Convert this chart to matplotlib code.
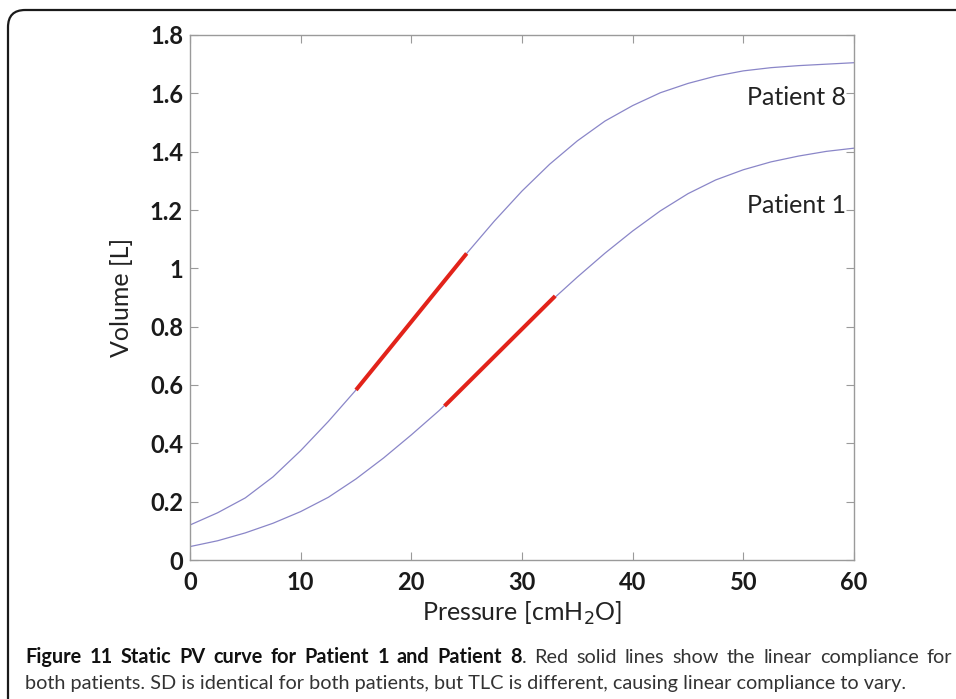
import matplotlib
matplotlib.use('Agg')
import matplotlib.pyplot as plt
from matplotlib.patches import FancyBboxPatch

# Static PV curves (pressure in cmH2O, volume in L)
pressure = [0, 2.5, 5, 7.5, 10, 12.5, 15, 17.5, 20, 22.5, 25, 27.5, 30,
            32.5, 35, 37.5, 40, 42.5, 45, 47.5, 50, 52.5, 55, 57.5, 60]
vol_p8 = [0.12, 0.162, 0.213, 0.285, 0.375, 0.475, 0.583, 0.70, 0.817, 0.935,
          1.051, 1.162, 1.265, 1.357, 1.437, 1.505, 1.558, 1.602, 1.634, 1.659,
          1.677, 1.688, 1.695, 1.70, 1.705]
vol_p1 = [0.046, 0.066, 0.093, 0.126, 0.166, 0.215, 0.278, 0.35, 0.429, 0.512,
          0.603, 0.70, 0.792, 0.884, 0.970, 1.052, 1.128, 1.197, 1.256, 1.303,
          1.338, 1.365, 1.385, 1.401, 1.412]

# linear compliance segments
lin_p8_x = [15, 25]
lin_p8_y = [0.583, 1.051]
lin_p1_x = [23, 33]
lin_p1_y = [0.528, 0.905]

x_ticks = [0, 10, 20, 30, 40, 50, 60]
y_ticks = [0, 0.2, 0.4, 0.6, 0.8, 1.0, 1.2, 1.4, 1.6, 1.8]
y_ticklabels = ['0', '0.2', '0.4', '0.6', '0.8', '1', '1.2', '1.4', '1.6', '1.8']

FONT = 'Lato'
W, H = 956, 699
fig = plt.figure(figsize=(W / 100, H / 100), dpi=100)
fig.patch.set_facecolor('white')

# outer frame with rounded corner
frame = FancyBboxPatch((8 / W, -40 / H), (W + 40) / W, (H + 40 - 10) / H,
                       boxstyle='round,pad=0,rounding_size=0.018',
                       transform=fig.transFigure, fill=False,
                       ec='#1a1a1a', lw=1.6, mutation_aspect=W / H)
fig.patches.append(frame)

ax = fig.add_axes([190 / W, (H - 560) / H, 664 / W, 525 / H])
ax.plot(pressure, vol_p8, color='#8a86c8', lw=0.9, zorder=2)
ax.plot(pressure, vol_p1, color='#8a86c8', lw=0.9, zorder=2)
ax.plot(lin_p8_x, lin_p8_y, color='#e2231a', lw=2.9, solid_capstyle='butt', zorder=3)
ax.plot(lin_p1_x, lin_p1_y, color='#e2231a', lw=2.9, solid_capstyle='butt', zorder=3)

ax.set_xlim(0, 60)
ax.set_ylim(0, 1.8)
ax.set_xticks(x_ticks)
ax.set_yticks(y_ticks)
ax.set_yticklabels(y_ticklabels)
for s in ax.spines.values():
    s.set_color('#9a9a9a')
    s.set_linewidth(1.0)
ax.tick_params(direction='in', length=6, width=0.8, color='#9a9a9a',
               top=True, right=True, labelsize=17, labelcolor='#1a1a1a')
ax.tick_params(axis='x', pad=8)
ax.tick_params(axis='y', pad=5)
for lbl in ax.get_xticklabels() + ax.get_yticklabels():
    lbl.set_fontfamily(FONT)
    lbl.set_fontweight('bold')

ax.set_xlabel('Pressure [cmH$_2$O]', fontsize=18, family=FONT, color='#222222', labelpad=4)
ax.set_ylabel('Volume [L]', fontsize=18, family=FONT, color='#222222', labelpad=12)

ax.text(59.3, 1.587, 'Patient 8', ha='right', va='center', fontsize=18,
        family=FONT, color='#222222')
ax.text(59.3, 1.217, 'Patient 1', ha='right', va='center', fontsize=18,
        family=FONT, color='#222222')

# caption: first line justified between x0 and x1
renderer = fig.canvas.get_renderer()
cap_size = 14.3
x0, x1 = 25, 952
base1, base2 = 663, 689
line1 = [(w, True) for w in 'Figure 11 Static PV curve for Patient 1 and Patient'.split()]
line1 += [('8', True), ('.', False)]
line1 += [(w, False) for w in 'Red solid lines show the linear compliance for'.split()]

texts = []
for word, bold in line1:
    t = fig.text(0, 1 - base1 / H, word, ha='left', va='baseline', fontsize=cap_size,
                 family=FONT, fontweight='bold' if bold else 'normal',
                 color='#111111' if bold else '#333333')
    texts.append(t)
widths = [t.get_window_extent(renderer).width for t in texts]
# '8' and '.' are glued together, so one gap fewer
gaps = len(texts) - 2
gap = (x1 - x0 - sum(widths)) / gaps
x = x0
for i, (t, w) in enumerate(zip(texts, widths)):
    t.set_x(x / W)
    x += w
    if line1[i][0] != '8':
        x += gap

fig.text(x0 / W, 1 - base2 / H,
         'both patients. SD is identical for both patients, but TLC is different, '
         'causing linear compliance to vary.',
         ha='left', va='baseline', fontsize=cap_size, family=FONT, color='#333333')

fig.savefig('out.png', dpi=100, facecolor='white')
